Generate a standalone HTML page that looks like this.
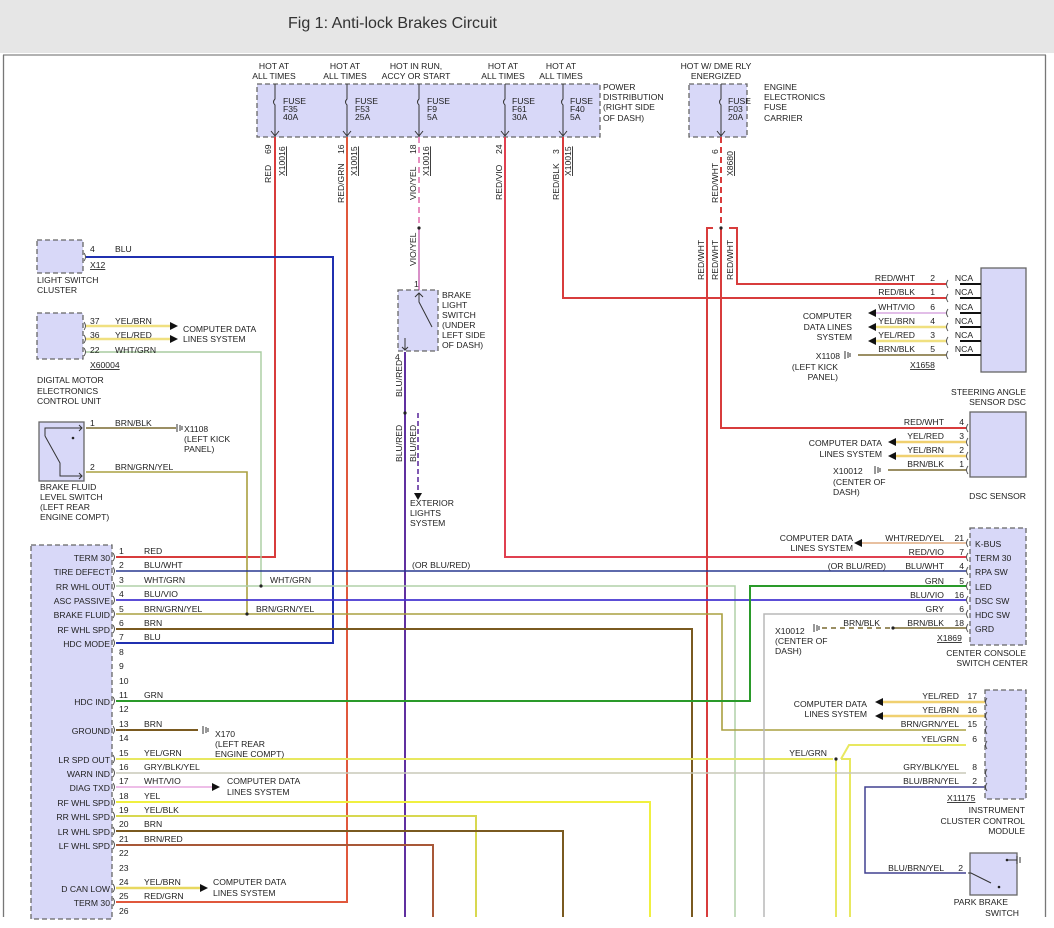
<!DOCTYPE html>
<html><head><meta charset="utf-8"><style>
html,body{margin:0;padding:0;background:#fff;}
svg{display:block;font-family:"Liberation Sans",Arial,sans-serif;}
text{font-size:8.6px;fill:#222;}
.t{font-size:16px;fill:#333;}
.r{text-anchor:end;}
.m{text-anchor:middle;}
.box{fill:#d8d8f8;stroke:#666;stroke-width:1.3;stroke-dasharray:5,3;}
.sbox{fill:#d8d8f8;stroke:#666;stroke-width:1.3;}
.w{fill:none;stroke-width:2;}
.u{text-decoration:underline;}
</style></head><body>
<svg width="1054" height="928" viewBox="0 0 1054 928" xmlns="http://www.w3.org/2000/svg">
<rect x="0" y="0" width="1054" height="53" fill="#e6e6e6"/>
<text class="t" x="288" y="28">Fig 1: Anti-lock Brakes Circuit</text>
<line x1="3" y1="55" x2="1046" y2="55" stroke="#999" stroke-width="1.5"/>
<line x1="3.5" y1="55" x2="3.5" y2="917" stroke="#777" stroke-width="1.3"/>
<line x1="1045.5" y1="55" x2="1045.5" y2="917" stroke="#777" stroke-width="1.3"/>

<!-- Fuse boxes -->
<rect class="box" x="257" y="84" width="343" height="53"/>
<rect class="box" x="689" y="84" width="58" height="53"/>
<g font-size="8.6">
<text class="m" x="274" y="69">HOT AT</text><text class="m" x="274" y="79">ALL TIMES</text>
<text class="m" x="345" y="69">HOT AT</text><text class="m" x="345" y="79">ALL TIMES</text>
<text class="m" x="416" y="69">HOT IN RUN,</text><text class="m" x="416" y="79">ACCY OR START</text>
<text class="m" x="503" y="69">HOT AT</text><text class="m" x="503" y="79">ALL TIMES</text>
<text class="m" x="561" y="69">HOT AT</text><text class="m" x="561" y="79">ALL TIMES</text>
<text class="m" x="716" y="69">HOT W/ DME RLY</text><text class="m" x="716" y="79">ENERGIZED</text>
<text x="603" y="90">POWER</text><text x="603" y="100">DISTRIBUTION</text><text x="603" y="110">(RIGHT SIDE</text><text x="603" y="121">OF DASH)</text>
<text x="764" y="90">ENGINE</text><text x="764" y="100">ELECTRONICS</text><text x="764" y="110">FUSE</text><text x="764" y="121">CARRIER</text>
</g>
<g stroke="#333" stroke-width="1" fill="none">
<path d="M275 84V99q-3 3 0 6V135M271 131l4 5 4-5"/>
<path d="M347 84V99q-3 3 0 6V135M343 131l4 5 4-5"/>
<path d="M419 84V99q-3 3 0 6V135M415 131l4 5 4-5"/>
<path d="M505 84V99q-3 3 0 6V135M501 131l4 5 4-5"/>
<path d="M563 84V99q-3 3 0 6V135M559 131l4 5 4-5"/>
<path d="M721 84V99q-3 3 0 6V135M717 131l4 5 4-5"/>
</g>
<g>
<text x="283" y="104">FUSE</text><text x="283" y="112">F35</text><text x="283" y="120">40A</text>
<text x="355" y="104">FUSE</text><text x="355" y="112">F53</text><text x="355" y="120">25A</text>
<text x="427" y="104">FUSE</text><text x="427" y="112">F9</text><text x="427" y="120">5A</text>
<text x="512" y="104">FUSE</text><text x="512" y="112">F61</text><text x="512" y="120">30A</text>
<text x="570" y="104">FUSE</text><text x="570" y="112">F40</text><text x="570" y="120">5A</text>
<text x="728" y="104">FUSE</text><text x="728" y="112">F03</text><text x="728" y="120">20A</text>
</g>
<g>
<text transform="translate(271,183) rotate(-90)">RED</text>
<text transform="translate(271,154) rotate(-90)">69</text>
<text transform="translate(285,176) rotate(-90)" class="u">X10016</text>
<text transform="translate(344,203) rotate(-90)">RED/GRN</text>
<text transform="translate(344,154) rotate(-90)">16</text>
<text transform="translate(357,176) rotate(-90)" class="u">X10015</text>
<text transform="translate(416,200) rotate(-90)">VIO/YEL</text>
<text transform="translate(416,154) rotate(-90)">18</text>
<text transform="translate(429,176) rotate(-90)" class="u">X10016</text>
<text transform="translate(502,200) rotate(-90)">RED/VIO</text>
<text transform="translate(502,154) rotate(-90)">24</text>
<text transform="translate(559,200) rotate(-90)">RED/BLK</text>
<text transform="translate(559,154) rotate(-90)">3</text>
<text transform="translate(571,176) rotate(-90)" class="u">X10015</text>
<text transform="translate(718,203) rotate(-90)">RED/WHT</text>
<text transform="translate(718,154) rotate(-90)">6</text>
<text transform="translate(733,176) rotate(-90)" class="u">X8680</text>
<text transform="translate(704,280) rotate(-90)">RED/WHT</text>
<text transform="translate(718,280) rotate(-90)">RED/WHT</text>
<text transform="translate(733,280) rotate(-90)">RED/WHT</text>
<text transform="translate(416,266) rotate(-90)">VIO/YEL</text>
<text transform="translate(402,397) rotate(-90)">BLU/RED</text>
<text transform="translate(402,462) rotate(-90)">BLU/RED</text>
<text transform="translate(416,462) rotate(-90)">BLU/RED</text>
</g>

<!-- Wires -->
<g class="w">
<path d="M275 137V557H116" stroke="#d83c3c"/>
<path d="M347 137V902H116" stroke="#e0583c"/>
<path d="M419 137V228" stroke="#e890c0" stroke-dasharray="6,4"/>
<path d="M419 228V290" stroke="#d890c8"/>
<path d="M505 137V557H966" stroke="#e04050"/>
<path d="M563 137V298H946" stroke="#d83c3c"/>
<path d="M721 137V228" stroke="#d83c3c" stroke-dasharray="6,4"/>
<path d="M713 228H707V917" stroke="#d83c3c"/>
<path d="M721 228V428H966" stroke="#d83c3c"/>
<path d="M729 228H737V284H946" stroke="#d83c3c"/>
<path d="M86 257H333V643H116" stroke="#2030b0"/>
<path d="M405 352V917" stroke="#6030a0"/>
<path d="M418 413V493" stroke="#6030a0" stroke-dasharray="5,3" stroke-width="1.6"/>
<path d="M86 352H261V586" stroke="#a8cca0" stroke-width="1.4"/>
<path d="M86 472H247V614" stroke="#aaa040" stroke-width="1.6"/>
<path d="M116 571H966" stroke="#283890" stroke-width="1.5"/>
<path d="M116 586H735V917" stroke="#b0d0a8" stroke-width="1.5"/>
<path d="M116 600H966" stroke="#4434d0" stroke-width="1.8"/>
<path d="M116 614H722V730H966" stroke="#aaa040" stroke-width="1.6"/>
<path d="M116 629H692V917" stroke="#7a5a20"/>
<path d="M116 701H750V586H966" stroke="#2a9a2a"/>
<path d="M116 730H198" stroke="#7a5a20"/>
<path d="M116 759H833M836 759V917" stroke="#e8e860"/>
<path d="M841 759H850V917M841 759L849 745H966" stroke="#e8e860"/>
<path d="M116 773H966" stroke="#c8c8b8" stroke-width="1.5"/>
<path d="M116 787H212" stroke="#e8a8e0" stroke-width="1.5"/>
<path d="M116 802H650V917" stroke="#f0f040"/>
<path d="M116 816H476V917" stroke="#d8d850"/>
<path d="M116 831H563V917" stroke="#7a5a20"/>
<path d="M116 845H433V917" stroke="#a85838"/>
<path d="M116 888H200" stroke="#e8d860" stroke-width="2.5"/>
<path d="M86 326H170M86 339H170" stroke="#f0e080" stroke-width="2.5"/>
<path d="M86 428H176" stroke="#7a6a30" stroke-width="1.5"/>
<path d="M764 917V614H966" stroke="#b8b8b8" stroke-width="1.5"/>
<path d="M893 628H966" stroke="#7a6a30" stroke-width="1.5"/>
<path d="M822 628H890" stroke="#7a6a30" stroke-width="1.5" stroke-dasharray="5,4"/>
<path d="M862 543H966" stroke="#e8c0a0" stroke-width="2"/>
<path d="M880 702H985M880 716H985" stroke="#f0d070" stroke-width="2.5"/>
<path d="M985 787H865V873H966" stroke="#404090" stroke-width="1.5"/>
<path d="M873 313H946" stroke="#d8a8e0" stroke-width="1.5"/>
<path d="M873 327H946M873 341H946" stroke="#f0e080" stroke-width="2.5"/>
<path d="M858 355H946" stroke="#7a6a30" stroke-width="1.5"/>
<path d="M893 442H966M893 456H966" stroke="#f0d070" stroke-width="2.5"/>
<path d="M888 470H966" stroke="#7a6a30" stroke-width="1.5"/>
</g>
<g fill="#222">
<circle cx="419" cy="228" r="1.6"/><circle cx="721" cy="228" r="1.6"/>
<circle cx="405" cy="413" r="1.6"/><circle cx="261" cy="586" r="1.6"/>
<circle cx="247" cy="614" r="1.6"/><circle cx="836" cy="759" r="1.6"/>
<circle cx="893" cy="628" r="1.6"/>
</g>
<g fill="#111">
<path d="M170 322l8 4-8 4z"/><path d="M170 335l8 4-8 4z"/>
<path d="M212 783l8 4-8 4z"/><path d="M200 884l8 4-8 4z"/>
<path d="M414 493h8l-4 7z"/>
<path d="M876 309l-8 4 8 4z"/><path d="M876 323l-8 4 8 4z"/><path d="M876 337l-8 4 8 4z"/>
<path d="M896 438l-8 4 8 4z"/><path d="M896 452l-8 4 8 4z"/>
<path d="M862 539l-8 4 8 4z"/>
<path d="M883 698l-8 4 8 4z"/><path d="M883 712l-8 4 8 4z"/>
</g>

<!-- Left components -->
<rect class="box" x="37" y="240" width="46" height="33"/>
<text x="90" y="252">4</text><text x="115" y="252">BLU</text>
<text x="90" y="268" class="u">X12</text>
<text x="37" y="283">LIGHT SWITCH</text><text x="37" y="293">CLUSTER</text>

<rect class="box" x="37" y="313" width="46" height="46"/>
<text x="90" y="324">37</text><text x="115" y="324">YEL/BRN</text>
<text x="90" y="338">36</text><text x="115" y="338">YEL/RED</text>
<text x="90" y="353">22</text><text x="115" y="353">WHT/GRN</text>
<text x="90" y="368" class="u">X60004</text>
<text x="183" y="332">COMPUTER DATA</text><text x="183" y="342">LINES SYSTEM</text>
<text x="37" y="383">DIGITAL MOTOR</text><text x="37" y="394">ELECTRONICS</text><text x="37" y="404">CONTROL UNIT</text>

<rect class="sbox" x="39" y="422" width="45" height="59"/>
<g stroke="#333" stroke-width="1" fill="none"><path d="M45 436V428H82M45 436l15 27V476H82M79 425l3 3-3 3M79 473l3 3-3 3"/></g>
<circle cx="73" cy="438" r="1.3" fill="#222"/>
<text x="90" y="426">1</text><text x="115" y="426">BRN/BLK</text>
<text x="90" y="470">2</text><text x="115" y="470">BRN/GRN/YEL</text>
<text x="184" y="432">X1108</text><text x="184" y="442">(LEFT KICK</text><text x="184" y="452">PANEL)</text>
<g stroke="#333" stroke-width="1"><path d="M177 424v8M180 425v6M182 426v4"/></g>
<text x="40" y="490">BRAKE FLUID</text><text x="40" y="500">LEVEL SWITCH</text><text x="40" y="510">(LEFT REAR</text><text x="40" y="520">ENGINE COMPT)</text>

<rect class="box" x="398" y="290" width="40" height="61"/>
<g stroke="#333" stroke-width="1" fill="none"><path d="M419 293V302l13 25M405 338V350M402 347l3 3 3-3M415 297l4-4 4 4"/></g>
<text x="414" y="287">1</text><text x="395" y="360">4</text>
<text x="442" y="298">BRAKE</text><text x="442" y="308">LIGHT</text><text x="442" y="318">SWITCH</text><text x="442" y="328">(UNDER</text><text x="442" y="338">LEFT SIDE</text><text x="442" y="348">OF DASH)</text>
<text x="410" y="506">EXTERIOR</text><text x="410" y="516">LIGHTS</text><text x="410" y="526">SYSTEM</text>

<!-- ABS module -->
<rect class="box" x="31" y="545" width="81" height="374"/>
<g class="r">
<text x="110" y="561">TERM 30</text><text x="110" y="575">TIRE DEFECT</text><text x="110" y="590">RR WHL OUT</text>
<text x="110" y="604">ASC PASSIVE</text><text x="110" y="618">BRAKE FLUID</text><text x="110" y="633">RF WHL SPD</text>
<text x="110" y="647">HDC MODE</text><text x="110" y="705">HDC IND</text><text x="110" y="734">GROUND</text>
<text x="110" y="763">LR SPD OUT</text><text x="110" y="777">WARN IND</text><text x="110" y="791">DIAG TXD</text>
<text x="110" y="806">RF WHL SPD</text><text x="110" y="820">RR WHL SPD</text><text x="110" y="835">LR WHL SPD</text>
<text x="110" y="849">LF WHL SPD</text><text x="110" y="892">D CAN LOW</text><text x="110" y="906">TERM 30</text>
</g>
<g>
<text x="119" y="554">1</text><text x="144" y="554">RED</text>
<text x="119" y="568">2</text><text x="144" y="568">BLU/WHT</text>
<text x="119" y="583">3</text><text x="144" y="583">WHT/GRN</text>
<text x="119" y="597">4</text><text x="144" y="597">BLU/VIO</text>
<text x="119" y="612">5</text><text x="144" y="612">BRN/GRN/YEL</text>
<text x="119" y="626">6</text><text x="144" y="626">BRN</text>
<text x="119" y="640">7</text><text x="144" y="640">BLU</text>
<text x="119" y="655">8</text><text x="119" y="669">9</text><text x="119" y="684">10</text>
<text x="119" y="698">11</text><text x="144" y="698">GRN</text>
<text x="119" y="712">12</text>
<text x="119" y="727">13</text><text x="144" y="727">BRN</text>
<text x="119" y="741">14</text>
<text x="119" y="756">15</text><text x="144" y="756">YEL/GRN</text>
<text x="119" y="770">16</text><text x="144" y="770">GRY/BLK/YEL</text>
<text x="119" y="784">17</text><text x="144" y="784">WHT/VIO</text>
<text x="119" y="799">18</text><text x="144" y="799">YEL</text>
<text x="119" y="813">19</text><text x="144" y="813">YEL/BLK</text>
<text x="119" y="827">20</text><text x="144" y="827">BRN</text>
<text x="119" y="842">21</text><text x="144" y="842">BRN/RED</text>
<text x="119" y="856">22</text><text x="119" y="871">23</text>
<text x="119" y="885">24</text><text x="144" y="885">YEL/BRN</text>
<text x="119" y="899">25</text><text x="144" y="899">RED/GRN</text>
<text x="119" y="914">26</text>
<text x="270" y="583">WHT/GRN</text><text x="256" y="612">BRN/GRN/YEL</text>
<text x="412" y="568">(OR BLU/RED)</text>
<text x="215" y="737">X170</text><text x="215" y="747">(LEFT REAR</text><text x="215" y="757">ENGINE COMPT)</text>
<text x="227" y="784">COMPUTER DATA</text><text x="227" y="795">LINES SYSTEM</text>
<text x="213" y="885">COMPUTER DATA</text><text x="213" y="896">LINES SYSTEM</text>
</g>
<g stroke="#333" stroke-width="1"><path d="M203 726v8M206 727v6M208 728v4"/></g>

<!-- Steering angle sensor -->
<rect class="sbox" x="981" y="268" width="45" height="104"/>
<g stroke="#111" stroke-width="2"><path d="M960 284H981M960 298H981M960 313H981M960 327H981M960 341H981M960 355H981"/></g>
<g class="m"><text x="964" y="281">NCA</text><text x="964" y="295">NCA</text><text x="964" y="310">NCA</text><text x="964" y="324">NCA</text><text x="964" y="338">NCA</text><text x="964" y="352">NCA</text></g>
<g class="r"><text x="915" y="281">RED/WHT</text><text x="915" y="295">RED/BLK</text><text x="915" y="310">WHT/VIO</text><text x="915" y="324">YEL/BRN</text><text x="915" y="338">YEL/RED</text><text x="915" y="352">BRN/BLK</text>
<text x="935" y="281">2</text><text x="935" y="295">1</text><text x="935" y="310">6</text><text x="935" y="324">4</text><text x="935" y="338">3</text><text x="935" y="352">5</text>
<text x="852" y="319">COMPUTER</text><text x="852" y="330">DATA LINES</text><text x="852" y="340">SYSTEM</text>
<text x="840" y="359">X1108</text><text x="838" y="370">(LEFT KICK</text><text x="838" y="380">PANEL)</text>
<text x="1026" y="395">STEERING ANGLE</text><text x="1026" y="405">SENSOR DSC</text></g>
<text x="910" y="368" class="u">X1658</text>
<g stroke="#333" stroke-width="1"><path d="M845 351v8M848 352v6M850 353v4"/></g>

<!-- DSC sensor -->
<rect class="sbox" x="970" y="412" width="56" height="65"/>
<g class="r"><text x="944" y="425">RED/WHT</text><text x="944" y="439">YEL/RED</text><text x="944" y="453">YEL/BRN</text><text x="944" y="467">BRN/BLK</text>
<text x="964" y="425">4</text><text x="964" y="439">3</text><text x="964" y="453">2</text><text x="964" y="467">1</text>
<text x="882" y="446">COMPUTER DATA</text><text x="882" y="457">LINES SYSTEM</text>
<text x="1026" y="499">DSC SENSOR</text></g>
<text x="833" y="474">X10012</text><text x="833" y="485">(CENTER OF</text><text x="833" y="495">DASH)</text>
<g stroke="#333" stroke-width="1"><path d="M875 466v8M878 467v6M880 468v4"/></g>

<!-- Center console -->
<rect class="box" x="970" y="528" width="56" height="117"/>
<g><text x="975" y="547">K-BUS</text><text x="975" y="561">TERM 30</text><text x="975" y="575">RPA SW</text><text x="975" y="590">LED</text><text x="975" y="604">DSC SW</text><text x="975" y="618">HDC SW</text><text x="975" y="632">GRD</text></g>
<g class="r"><text x="944" y="541">WHT/RED/YEL</text><text x="944" y="555">RED/VIO</text><text x="944" y="569">BLU/WHT</text><text x="944" y="584">GRN</text><text x="944" y="598">BLU/VIO</text><text x="944" y="612">GRY</text><text x="944" y="626">BRN/BLK</text>
<text x="964" y="541">21</text><text x="964" y="555">7</text><text x="964" y="569">4</text><text x="964" y="584">5</text><text x="964" y="598">16</text><text x="964" y="612">6</text><text x="964" y="626">18</text>
<text x="886" y="569">(OR BLU/RED)</text>
<text x="853" y="541">COMPUTER DATA</text><text x="853" y="551">LINES SYSTEM</text>
<text x="880" y="626">BRN/BLK</text>
<text x="1026" y="656">CENTER CONSOLE</text><text x="1028" y="666">SWITCH CENTER</text></g>
<text x="937" y="641" class="u">X1869</text>
<text x="775" y="634">X10012</text><text x="775" y="644">(CENTER OF</text><text x="775" y="654">DASH)</text>
<g stroke="#333" stroke-width="1"><path d="M814 624v8M817 625v6M819 626v4"/></g>

<!-- ICCM -->
<rect class="box" x="985" y="690" width="41" height="109"/>
<g class="r"><text x="959" y="699">YEL/RED</text><text x="959" y="713">YEL/BRN</text><text x="959" y="727">BRN/GRN/YEL</text><text x="959" y="742">YEL/GRN</text><text x="959" y="770">GRY/BLK/YEL</text><text x="959" y="784">BLU/BRN/YEL</text>
<text x="977" y="699">17</text><text x="977" y="713">16</text><text x="977" y="727">15</text><text x="977" y="742">6</text><text x="977" y="770">8</text><text x="977" y="784">2</text>
<text x="867" y="707">COMPUTER DATA</text><text x="867" y="717">LINES SYSTEM</text>
<text x="827" y="756">YEL/GRN</text>
<text x="1025" y="813">INSTRUMENT</text><text x="1025" y="824">CLUSTER CONTROL</text><text x="1025" y="834">MODULE</text></g>
<text x="947" y="801" class="u">X11175</text>

<!-- Park brake -->
<rect class="sbox" x="970" y="853" width="47" height="42"/>
<g stroke="#333" stroke-width="1" fill="none"><path d="M968 873h3l20 10M1007 860h10M1017 856v8M1020 857v6"/></g>
<circle cx="1007" cy="860" r="1.3" fill="#222"/><circle cx="999" cy="887" r="1.3" fill="#222"/>
<g class="r"><text x="944" y="871">BLU/BRN/YEL</text><text x="963" y="871">2</text>
<text x="1008" y="905">PARK BRAKE</text><text x="1019" y="916">SWITCH</text></g>

<g stroke="#444" stroke-width="0.9" fill="none">
<path d="M84 253q3 4 0 8M84 322q3 4 0 8M84 335q3 4 0 8M84 348q3 4 0 8"/>
<path d="M113 553q3 4 0 8M113 567q3 4 0 8M113 582q3 4 0 8M113 596q3 4 0 8M113 610q3 4 0 8M113 625q3 4 0 8M113 639q3 4 0 8M113 697q3 4 0 8M113 726q3 4 0 8M113 755q3 4 0 8M113 769q3 4 0 8M113 783q3 4 0 8M113 798q3 4 0 8M113 812q3 4 0 8M113 827q3 4 0 8M113 841q3 4 0 8M113 884q3 4 0 8M113 898q3 4 0 8"/>
<path d="M968 539q-3 4 0 8M968 553q-3 4 0 8M968 567q-3 4 0 8M968 582q-3 4 0 8M968 596q-3 4 0 8M968 610q-3 4 0 8M968 624q-3 4 0 8"/>
<path d="M968 424q-3 4 0 8M968 438q-3 4 0 8M968 452q-3 4 0 8M968 466q-3 4 0 8"/>
<path d="M948 280q-3 4 0 8M948 294q-3 4 0 8M948 309q-3 4 0 8M948 323q-3 4 0 8M948 337q-3 4 0 8M948 351q-3 4 0 8"/>
<path d="M987 698q-3 4 0 8M987 712q-3 4 0 8M987 726q-3 4 0 8M987 741q-3 4 0 8M987 769q-3 4 0 8M987 783q-3 4 0 8"/>
</g>
</svg>
</body></html>
